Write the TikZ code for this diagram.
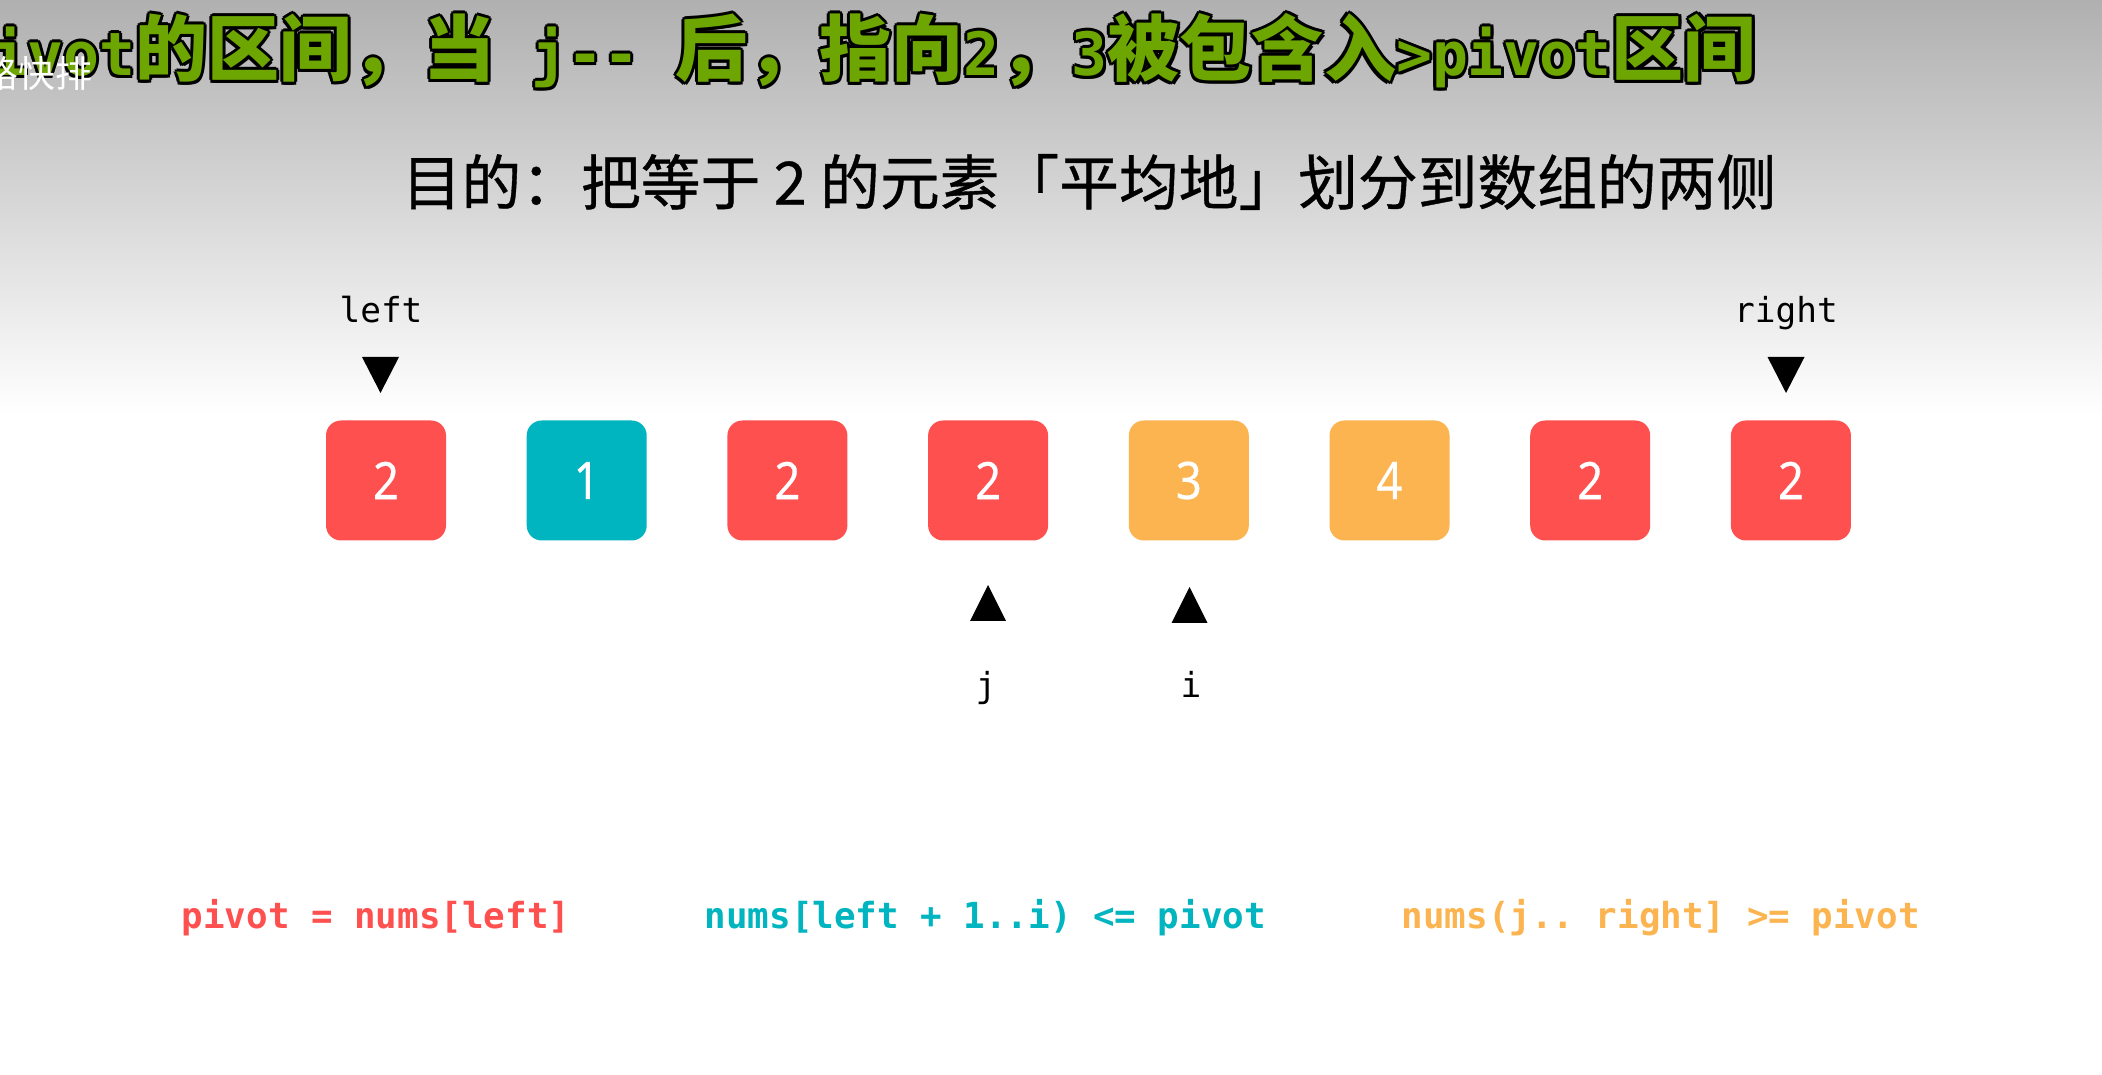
\documentclass[tikz,border=0pt]{standalone}
\usepackage{fontspec}
\setmainfont{Noto Sans}
\setmonofont{DejaVu Sans Mono}
\newfontfamily\cjkfont{Noto Sans CJK SC}
\newfontfamily\cjkmed[FakeBold=0.6]{Noto Sans CJK SC}
\newfontfamily\numfont[FakeStretch=0.88,FakeBold=0.4]{Noto Sans}
\usetikzlibrary{positioning}

\definecolor{numred}{HTML}{FF5050}
\definecolor{numcyan}{HTML}{00B5C0}
\definecolor{numorange}{HTML}{FBB450}
\definecolor{ttlgreen}{HTML}{6DA600}
\definecolor{bgtop}{HTML}{B0B0B0}

\newcommand{\ttlcode}{\ttfamily\bfseries\fontsize{17}{20}\selectfont}
\newcommand{\ttltext}{\cjkfont\bfseries\fontsize{20.5}{24}\selectfont
  {\ttlcode pivot}的区间，当{\ttlcode\ j-{}-\ }后，指向{\ttlcode 2}，{\ttlcode 3}被包含入{\ttlcode >pivot}区间}

\tikzset{
  cell/.style={rounded corners=0.15cm,minimum size=1.2cm,inner sep=0pt,
    text=white,font=\numfont\fontsize{14.7}{16}\selectfont},
  lbl/.style={inner sep=0pt,font=\ttfamily\fontsize{9.8}{12}\selectfont},
  inv/.style={inner sep=0pt,anchor=base west,font=\ttfamily\bfseries\fontsize{10.2}{12}\selectfont},
  ttl/.style={inner sep=0pt,anchor=base west}
}

\begin{document}
\begin{tikzpicture}
  \useasboundingbox (0,0) rectangle (21.02,10.74);
  \clip (0,0) rectangle (21.02,10.74);
  % background: grey fading to white
  \fill[white] (0,0) rectangle (21.02,10.74);
  \shade[top color=bgtop,bottom color=white] (0,6.6) rectangle (21.02,10.74);

  % caption burnt into the frame, outlined in black
  \foreach \dx/\dy in {.03/0,-.03/0,0/.03,0/-.03,.022/.022,-.022/.022,.022/-.022,-.022/-.022}
    \node[ttl,text=black] at (-0.45+\dx,9.98+\dy) {\ttltext};
  \node[ttl,text=ttlgreen] (caption) at (-0.45,9.98) {\ttltext};
  \node[inner sep=0pt,anchor=west,text=white,font=\cjkfont\fontsize{10.5}{12}\selectfont]
        (series) at (-0.19,10.0) {路快排};

  % goal line
  \node[font=\cjkmed\fontsize{17}{20}\selectfont] (goal) at (10.89,8.92)
        {目的：把等于 2 的元素「平均地」划分到数组的两侧};

  % the array
  \foreach \v/\c [count=\k] in {2/numred,1/numcyan,2/numred,2/numred,3/numorange,4/numorange,2/numred,2/numred}
    \node[cell,fill=\c] (b\k) at ({3.86+2.007*(\k-1)},5.935) {\v};

  % pointers left / right above, j / i below
  \coordinate (pl) at (3.805,6.99);
  \coordinate (pr) at (17.86,6.99);
  \coordinate (pj) at (9.88,4.71);
  \coordinate (pi) at (11.895,4.69);
  \fill (pl) ++(-.185,.18) -- ++(.37,0) -- ++(-.185,-.36) -- cycle;
  \fill (pr) ++(-.185,.18) -- ++(.37,0) -- ++(-.185,-.36) -- cycle;
  \fill (pj) ++(-.18,-.18) -- ++(.36,0) -- ++(-.18,.36) -- cycle;
  \fill (pi) ++(-.18,-.18) -- ++(.36,0) -- ++(-.18,.36) -- cycle;
  \node[lbl,anchor=base] (lleft) at (3.81,7.51) {left};
  \node[lbl,anchor=base] (lright) at (17.86,7.51) {right};
  \node[lbl,anchor=base] (lj) at (9.86,3.76) {j};
  \node[lbl,anchor=base] (li) at (11.91,3.76) {i};

  % invariants
  \node[inv,text=numred] (inv1) at (1.81,1.45) {pivot = nums[left]};
  \node[inv,text=numcyan] (inv2) at (7.04,1.45) {nums[left + 1..i) <= pivot};
  \node[inv,text=numorange] (inv3) at (14.01,1.45) {nums(j.. right] >= pivot};
\end{tikzpicture}
\end{document}
